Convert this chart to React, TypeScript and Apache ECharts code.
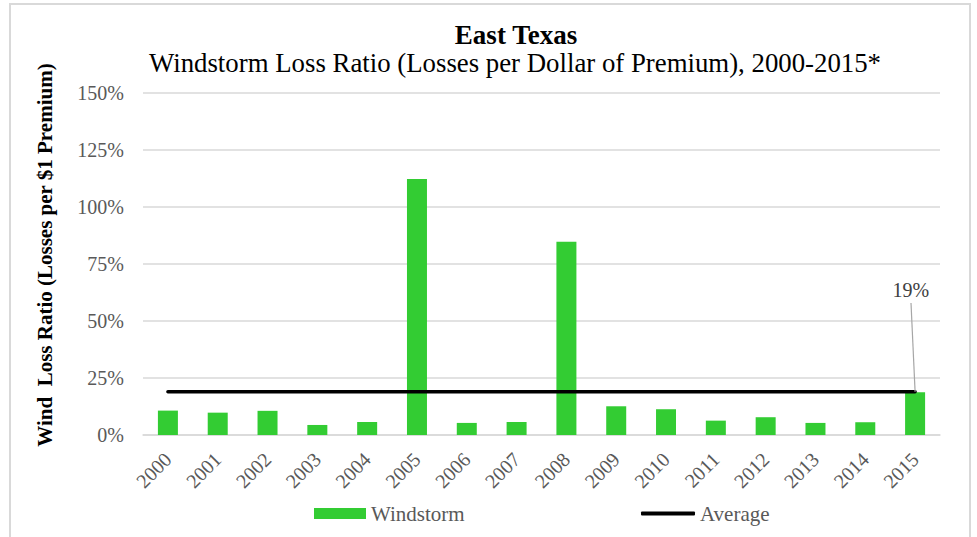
import React, { useEffect, useRef } from "react";
import * as echarts from "echarts";

const years = ["2000","2001","2002","2003","2004","2005","2006","2007","2008","2009","2010","2011","2012","2013","2014","2015"];
const windstorm = [10.7, 9.8, 10.6, 4.4, 5.7, 112.3, 5.3, 5.7, 84.8, 12.6, 11.3, 6.3, 7.8, 5.3, 5.6, 18.7];
const average = [19, 19, 19, 19, 19, 19, 19, 19, 19, 19, 19, 19, 19, 19, 19, 19];
const yTicks = { min: 0, max: 150, interval: 25 };
const titleText = "East Texas";
const subtitleText = "Windstorm Loss Ratio (Losses per Dollar of Premium), 2000-2015*";
const yAxisName = "Wind  Loss Ratio (Losses per $1 Premium)";
const avgLabel = "19%";

const FONT = "Liberation Serif";

export default function App() {
  const ref = useRef<HTMLDivElement>(null);
  useEffect(() => {
    if (!ref.current) return;
    const chart = echarts.init(ref.current, null, { renderer: "svg" });
    const last = average.length - 1;
    chart.setOption({
      animation: false,
      backgroundColor: "#ffffff",
      textStyle: { fontFamily: FONT },
      graphic: [
        {
          type: "rect",
          shape: { x: 10, y: 4, width: 960, height: 540 },
          style: { fill: "none", stroke: "#d9d9d9", lineWidth: 2 },
          silent: true,
        },
        {
          type: "text",
          x: 516,
          y: 35,
          style: {
            text: titleText,
            fontFamily: FONT,
            fontSize: 27,
            fontWeight: "bold",
            fill: "#000000",
            textAlign: "center",
            textVerticalAlign: "middle",
          },
        },
        {
          type: "text",
          x: 515,
          y: 63,
          style: {
            text: subtitleText,
            fontFamily: FONT,
            fontSize: 26.8,
            fill: "#000000",
            textAlign: "center",
            textVerticalAlign: "middle",
          },
        },
        {
          type: "text",
          x: 45,
          y: 255,
          rotation: Math.PI / 2,
          style: {
            text: yAxisName,
            fontFamily: FONT,
            fontSize: 21,
            fontWeight: "bold",
            fill: "#000000",
            textAlign: "center",
            textVerticalAlign: "middle",
          },
        },
      ],
      grid: { left: 143, top: 93, width: 797, height: 342, containLabel: false },
      legend: [
        {
          left: 309,
          top: 498,
          data: [{ name: "Windstorm", icon: "rect" }],
          itemWidth: 52,
          itemHeight: 11,
          textStyle: { fontFamily: FONT, fontSize: 21, color: "#595959" },
        },
        {
          left: 636,
          top: 498,
          data: [{ name: "Average", icon: "roundRect", itemStyle: { color: "#000000" } }],
          itemWidth: 54,
          itemHeight: 4,
          textStyle: { fontFamily: FONT, fontSize: 21, color: "#595959" },
        },
      ],
      xAxis: {
        type: "category",
        data: years,
        axisTick: { show: false },
        axisLine: { show: true, lineStyle: { color: "#d9d9d9", width: 1.5 } },
        axisLabel: {
          rotate: 45,
          fontFamily: FONT,
          fontSize: 20,
          color: "#595959",
          margin: 21,
          interval: 0,
        },
      },
      yAxis: {
        type: "value",
        min: yTicks.min,
        max: yTicks.max,
        interval: yTicks.interval,
        axisLine: { show: false },
        axisTick: { show: false },
        splitLine: { lineStyle: { color: "#d9d9d9", width: 1.5 } },
        axisLabel: {
          formatter: "{value}%",
          fontFamily: FONT,
          fontSize: 20,
          color: "#595959",
          margin: 19,
        },
      },
      series: [
        {
          name: "Windstorm",
          type: "bar",
          data: windstorm,
          barWidth: 20,
          itemStyle: { color: "#33cc33" },
        },
        {
          name: "Average",
          type: "line",
          data: average,
          symbol: "none",
          showSymbol: false,
          color: "#000000",
          lineStyle: { color: "#000000", width: 3.5, cap: "round" },
          z: 3,
          markLine: {
            silent: true,
            symbol: ["none", "none"],
            lineStyle: { color: "#a6a6a6", width: 1.2, type: "solid" },
            label: {
              show: true,
              position: "end",
              distance: 3,
              formatter: avgLabel,
              fontFamily: FONT,
              fontSize: 20,
              color: "#404040",
            },
            data: [
              [
                { coord: [years[last], average[last]] },
                { x: 911, y: 303 },
              ],
            ],
          },
        },
      ],
    });
    return () => chart.dispose();
  }, []);
  return (
    <div
      ref={ref}
      style={{ position: "fixed", left: 0, top: 0, width: 977, height: 537 }}
    />
  );
}
